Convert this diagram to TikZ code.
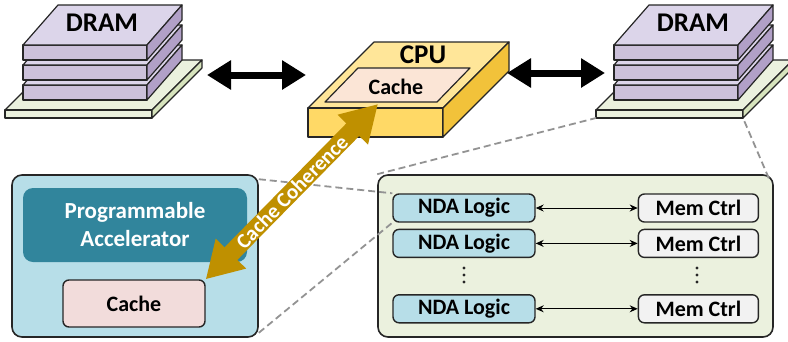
\documentclass[tikz,border=0pt]{standalone}
\usepackage{fontspec}
\setmainfont{Carlito}
\usetikzlibrary{positioning, arrows.meta}

\definecolor{slabfront}{HTML}{CCC1DA}
\definecolor{slabtop}{HTML}{DCD5EA}
\definecolor{slabside}{HTML}{B1A0C7}
\definecolor{platefront}{HTML}{EBF1DE}
\definecolor{plateside}{HTML}{D7E4BD}
\definecolor{cputop}{HTML}{FFE699}
\definecolor{cpufront}{HTML}{FFD966}
\definecolor{cpuside}{HTML}{F2C23A}
\definecolor{cachefill}{HTML}{FBE5D6}
\definecolor{accbg}{HTML}{B7DEE8}
\definecolor{accteal}{HTML}{31859C}
\definecolor{acccache}{HTML}{F2DCDB}
\definecolor{ndabg}{HTML}{EBF1DE}
\definecolor{ndalogic}{HTML}{B7DEE8}
\definecolor{memctrl}{HTML}{F2F2F2}
\definecolor{coherence}{HTML}{BF9000}
\definecolor{edge}{HTML}{262626}

\begin{document}
\begin{tikzpicture}[x=1pt, y=-1pt, line join=round,
  face/.style={draw=edge, line width=1.2pt},
  outerbox/.style={draw=edge, line width=1.6pt, rounded corners=10pt},
  unitbox/.style={draw=edge, line width=1.4pt, rounded corners=6pt, inner sep=0pt,
    minimum height=28pt, font=\fontsize{22}{22}\selectfont\bfseries},
  bigarrow/.style={line width=7pt, {Triangle[length=24pt,width=28pt]}-{Triangle[length=24pt,width=28pt]}},
  linkarrow/.style={line width=1pt, {Stealth[length=8pt,width=7pt]}-{Stealth[length=8pt,width=7pt]}},
  zoomline/.style={draw=gray!85, line width=1.8pt, dash pattern=on 7pt off 4pt},
  vdot/.style={circle, fill=edge, inner sep=0pt, minimum size=3.2pt}]
  \useasboundingbox (0,0) rectangle (788,341);

  % 两侧的 DRAM 堆叠
  \foreach \dx/\nm in {0/dramL, 591/dramR}{
    \begin{scope}[xshift=\dx]
      % 底板
      \draw[face, fill=platefront] (5,110) -- (152,110) -- (202,60) -- (55,60) -- cycle;
      \draw[face, fill=platefront] (5,110) rectangle (152,118);
      \draw[face, fill=plateside] (152,110) -- (202,60) -- (202,68) -- (152,118) -- cycle;
      % 三层芯片
      \foreach \y in {85,65,45}{
        \draw[face, fill=slabfront] (23,\y) rectangle (147,\y+15);
        \draw[face, fill=slabtop] (23,\y) -- (147,\y) -- (182,\y-40) -- (58,\y-40) -- cycle;
        \draw[face, fill=slabside] (147,\y) -- (182,\y-40) -- (182,\y-25) -- (147,\y+15) -- cycle;
      }
      \node[font=\fontsize{27}{27}\selectfont\bfseries] (\nm) at (102,23) {DRAM};
      \coordinate (\nm-w) at (14,73);
      \coordinate (\nm-e) at (207,75);
      \coordinate (\nm-bl) at (5,118);
      \coordinate (\nm-br) at (152,118);
    \end{scope}
  }

  % CPU 及其缓存
  \draw[face, fill=cputop] (308,108) -- (443,108) -- (509,42) -- (374,42) -- cycle;
  \draw[face, fill=cpufront] (308,108) rectangle (443,137);
  \draw[face, fill=cpuside] (443,108) -- (509,42) -- (509,71) -- (443,137) -- cycle;
  \draw[face, fill=cachefill] (325,102) -- (437,102) -- (470,68) -- (358,68) -- cycle;
  \node[font=\fontsize{27}{27}\selectfont\bfseries] (cpu) at (423,55) {CPU};
  \node[font=\fontsize{22}{22}\selectfont\bfseries] (cpucache) at (396,87) {Cache};
  \coordinate (cpu-w) at (306,75);
  \coordinate (cpu-e) at (507,73);
  \coordinate (cpucache-s) at (378,104);

  % 内存与 CPU 之间的连接
  \draw[bigarrow] (dramL-e) -- (cpu-w);
  \draw[bigarrow] (cpu-e) -- (dramR-w);

  % 左下：可编程加速器
  \node[outerbox, fill=accbg, minimum width=246pt, minimum height=162pt] (acc) at (135,256) {};
  \node[draw=none, fill=accteal, rounded corners=10pt, text=white, align=center,
    minimum width=224pt, minimum height=74pt,
    font=\fontsize{23}{28}\selectfont\bfseries] (prog) at (135,225) {Programmable\\Accelerator};
  \node[unitbox, fill=acccache, minimum width=142pt, minimum height=47pt] (acccache) at (134,303.5) {Cache};

  % 右下：近数据加速逻辑
  \node[outerbox, fill=ndabg, minimum width=395pt, minimum height=162pt] (ndabox) at (575.5,256) {};
  \draw[zoomline] (ndabox.north west) -- (dramR-bl);
  \draw[zoomline] ([xshift=-5pt,yshift=-4pt]ndabox.north east) -- (dramR-br);

  \node[unitbox, fill=ndalogic, minimum width=142pt] (nda1) at (464,208) {NDA Logic};
  \node[unitbox, fill=ndalogic, minimum width=142pt, below=6pt of nda1] (nda2) {NDA Logic};
  \node[unitbox, fill=ndalogic, minimum width=142pt, below=36pt of nda2] (nda3) {NDA Logic};
  \foreach \i in {1,2,3}{
    \node[unitbox, fill=memctrl, minimum width=120pt, right=102pt of nda\i] (mem\i) {Mem Ctrl};
    \draw[linkarrow] (nda\i) -- (mem\i);
  }
  % 省略号
  \foreach \x/\nm in {464/L, 697/R}
    \foreach \k/\y in {1/268, 2/275, 3/282}
      \node[vdot] (dots\nm\k) at (\x,\y) {};

  % 放大示意的虚线
  \draw[zoomline] ([yshift=-5pt]acc.north east) -- (nda1.north west);
  \draw[zoomline] ([yshift=5pt]acc.south east) -- (nda1.south west);

  % 缓存一致性
  \draw[coherence, line width=18pt,
    {Triangle[length=36pt,width=40pt]}-{Triangle[length=36pt,width=40pt]}]
    (acccache.north east) -- (cpucache-s)
    node[midway, sloped, text=white, font=\fontsize{21}{21}\selectfont\bfseries] {Cache Coherence};
\end{tikzpicture}
\end{document}
